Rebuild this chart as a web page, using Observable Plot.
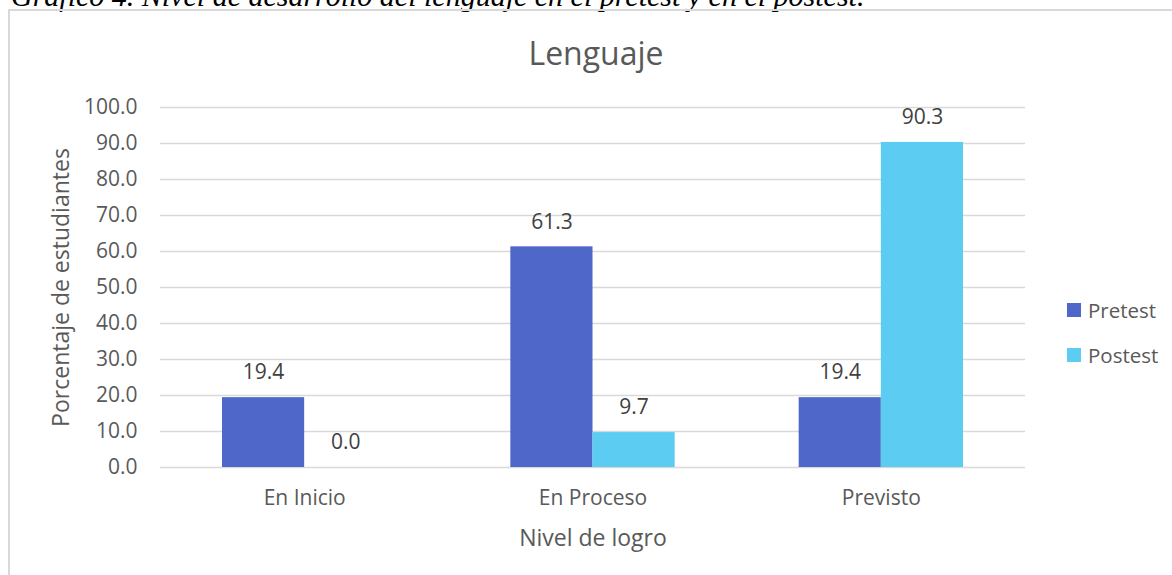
<!DOCTYPE html>
<html>
<head>
<meta charset="utf-8">
<script src="https://cdn.jsdelivr.net/npm/d3@7"></script>
<script src="https://cdn.jsdelivr.net/npm/@observablehq/plot@0.6"></script>
<style>
  html, body { margin: 0; padding: 0; background: #fff; }
  #wrap { position: relative; width: 1172px; height: 575px; overflow: hidden; font-family: "Open Sans", sans-serif; }
  #caption { position: absolute; left: 11px; top: -19px; font-family: "Liberation Serif", serif; font-style: italic; font-size: 30px; line-height: 30px; color: #000; white-space: nowrap; }
  #frame { position: absolute; left: 8px; top: 9px; width: 1300px; height: 700px; border: 2px solid #d9d9d9; box-sizing: border-box; }
  #chart { position: absolute; left: 0; top: 0; }
  #title { position: absolute; left: 10px; width: 1172px; top: 33px; text-align: center; font-size: 32px; line-height: 40px; color: #595959; }
  .leg { position: absolute; left: 1067px; font-size: 20.5px; line-height: 24px; color: #595959; display: flex; align-items: center; }
  .sw { width: 14px; height: 14px; margin-right: 7px; display: inline-block; }
</style>
</head>
<body>
<div id="wrap">
  <div id="caption">Gráfico 4. Nivel de desarrollo del lenguaje en el pretest y en el postest.</div>
  <div id="frame"></div>
  <div id="chart"></div>
  <div id="title">Lenguaje</div>
  <div id="legend"></div>
</div>
<script>
const categories = ["En Inicio", "En Proceso", "Previsto"];
const series = ["Pretest", "Postest"];
const pretest = [19.4, 61.3, 19.4];
const postest = [0.0, 9.7, 90.3];
const yTicks = [0, 10, 20, 30, 40, 50, 60, 70, 80, 90, 100];
const colors = ["#4F67C8", "#5DCCF3"];
const yLabel = "Porcentaje de estudiantes";
const xLabel = "Nivel de logro";

const barFrac = 0.285; // width of one bar as a fraction of a category step
const values = [pretest, postest];
const rows = [];
categories.forEach((c, i) => {
  series.forEach((s, k) => {
    rows.push({
      category: c,
      series: s,
      value: values[k][i],
      x1: i + (k - 1) * barFrac,
      x2: i + k * barFrac
    });
  });
});

const plot = Plot.plot({
  width: 1172,
  height: 575,
  marginLeft: 160,
  marginRight: 147,
  marginTop: 107,
  marginBottom: 108,
  style: { fontFamily: "Open Sans, sans-serif", background: "transparent", overflow: "visible" },
  x: { type: "linear", domain: [-0.5, 2.5] },
  y: { domain: [0, 100] },
  color: { domain: series, range: colors },
  marks: [
    Plot.ruleY(yTicks, { stroke: "#d9d9d9", strokeWidth: 1.3 }),
    Plot.rectY(rows, { x1: "x1", x2: "x2", y: "value", fill: "series" }),
    Plot.text(rows, {
      x: d => (d.x1 + d.x2) / 2,
      y: "value",
      text: d => d.value.toFixed(1),
      dy: -25,
      fontSize: 21,
      fill: "#404040"
    }),
    Plot.axisY({
      ticks: yTicks,
      tickFormat: d3.format(".1f"),
      tickSize: 0,
      tickPadding: 23,
      fontSize: 21,
      color: "#595959",
      label: null
    }),
    Plot.axisX({
      ticks: [0, 1, 2],
      tickFormat: i => categories[i],
      tickSize: 0,
      tickPadding: 23,
      fontSize: 21,
      color: "#595959",
      label: null
    }),
    Plot.text([yLabel], {
      text: d => d,
      frameAnchor: "left",
      textAnchor: "middle",
      rotate: -90,
      dx: -99,
      fontSize: 23,
      fill: "#595959"
    }),
    Plot.text([xLabel], {
      text: d => d,
      frameAnchor: "bottom",
      textAnchor: "middle",
      dy: 78,
      fontSize: 23,
      fill: "#595959"
    })
  ]
});
document.getElementById("chart").appendChild(plot);

const legend = document.getElementById("legend");
series.forEach((s, k) => {
  const item = document.createElement("div");
  item.className = "leg";
  item.style.top = (298 + k * 45) + "px";
  const sw = document.createElement("span");
  sw.className = "sw";
  sw.style.background = colors[k];
  item.appendChild(sw);
  item.appendChild(document.createTextNode(s));
  legend.appendChild(item);
});
</script>
</body>
</html>
